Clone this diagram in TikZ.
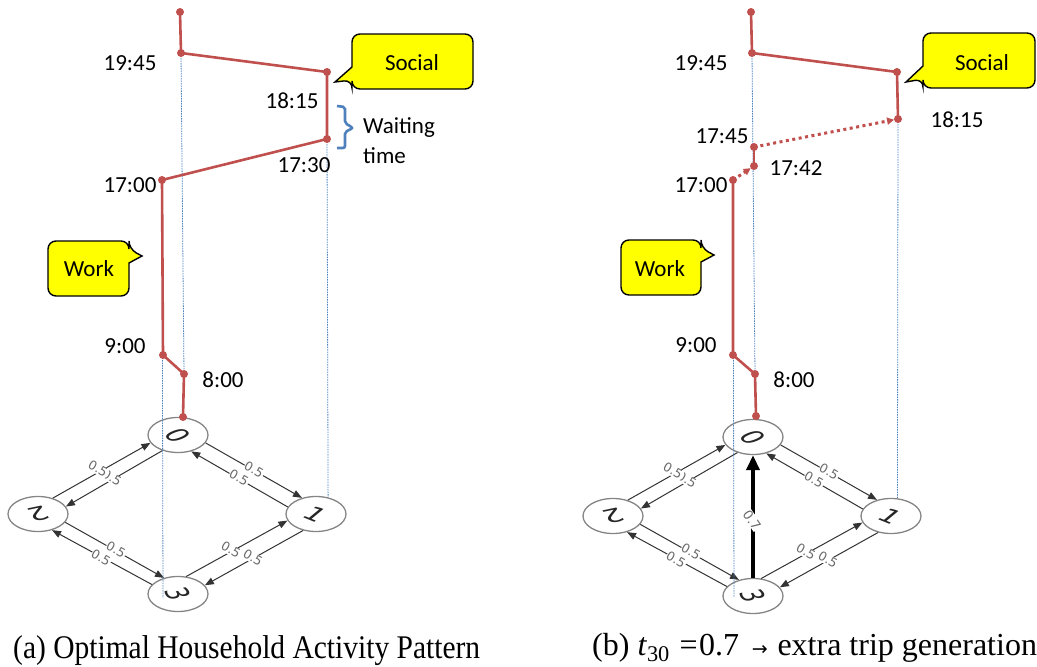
\documentclass[tikz,border=0pt]{standalone}
\usepackage{fontspec}
\setmainfont{Liberation Serif}
\newfontfamily\lblfont{Carlito}
\newfontfamily\grfont{DejaVu Sans}
\usetikzlibrary{arrows.meta,shapes.geometric}

\definecolor{pathred}{HTML}{C0504D}
\definecolor{guideblue}{HTML}{4F81BD}
\definecolor{bubbleyellow}{HTML}{FFFF00}
\definecolor{edgegray}{HTML}{333333}
\definecolor{ringgray}{HTML}{858585}
\definecolor{weightgray}{HTML}{6A6A6A}

\tikzset{
  state/.style={ellipse, draw=ringgray, line width=1.3pt, minimum width=60pt, minimum height=35pt, inner sep=0pt},
  digit/.style={font=\grfont\fontsize{32}{32}\selectfont, text=black!85, yscale=0.58, inner sep=0pt},
  flow/.style={draw=edgegray, line width=1pt, -{Triangle[length=9pt,width=7pt]}},
  weight/.style={font=\grfont\fontsize{12.5}{12.5}\selectfont, text=weightgray, fill=white, inner sep=0.5pt, rotate=-30},
  route/.style={draw=pathred, line width=2.6pt, line join=round},
  extratrip/.style={draw=pathred, line width=3pt, dash pattern=on 3pt off 3.5pt, shorten >=4pt, -{Triangle[length=7pt,width=7pt]}},
  guide/.style={draw=guideblue, line width=0.8pt, dash pattern=on 1.5pt off 1pt},
  timelbl/.style={font=\lblfont\fontsize{23}{27}\selectfont, inner sep=0pt, anchor=base},
  bubble/.style={draw=black, line width=1.4pt, fill=bubbleyellow},
  caption/.style={inner sep=0pt, anchor=base west},
}

% the four-state network with its transition weights
\newcommand{\hhgraph}[1]{%
  \node[state] (#1n0) at (178,435) {};
  \node[state] (#1n1) at (316,514) {};
  \node[state] (#1n2) at (38,514) {};
  \node[state] (#1n3) at (178,594) {};
  \node[digit, rotate=-55] (#1d0) at (#1n0) {0};
  \node[digit, rotate=-35] (#1d1) at (#1n1) {1};
  \node[digit, rotate=200] (#1d2) at (#1n2) {2};
  \node[digit, rotate=-70] (#1d3) at (#1n3) {3};
  \draw[flow] (#1n2.47) -- (#1n0.196);
  \draw[flow] (#1n0.225) -- (#1n2.15);
  \draw[flow] (#1n0.344) -- (#1n1.131);
  \draw[flow] (#1n1.166) -- (#1n0.309);
  \draw[flow] (#1n2.343) -- (#1n3.131);
  \draw[flow] (#1n3.160) -- (#1n2.311);
  \draw[flow] (#1n3.65) -- (#1n1.193);
  \draw[flow] (#1n1.232) -- (#1n3.18);
  \node[weight] (#1w02b) at (112,478) {0.5};
  \node[weight] (#1w02a) at (98,469) {0.5};
  \node[weight] (#1w01a) at (254,470) {0.5};
  \node[weight] (#1w01b) at (239,478) {0.5};
  \node[weight] (#1w23a) at (116,550) {0.5};
  \node[weight] (#1w23b) at (101,558) {0.5};
  \node[weight] (#1w31a) at (231,550) {0.5};
  \node[weight] (#1w31b) at (253,558) {0.5};
}

\begin{document}
\begin{tikzpicture}[x=1pt,y=-1pt]
\useasboundingbox (0,0) rectangle (1037,667);

% ---------------- (a) ----------------
\hhgraph{a}

\coordinate (aT) at (180,12);
\coordinate (a1945) at (181,53);
\coordinate (aSoc) at (327,72);
\coordinate (a1730) at (327,139);
\coordinate (a1700) at (162,180);
\coordinate (a900) at (163,355);
\coordinate (a800) at (184,374);
\coordinate (aH) at (183,417);
\coordinate (aG3) at (163,598);

\draw[guide] (a1945) -- (a800);
\draw[guide] (a1700) -- (aG3);
\draw[guide] (a1730) -- (an1.54);

\draw[route] (aT) -- (a1945) -- (aSoc) -- (a1730) -- (a1700) -- (a900) -- (a800) -- (aH);
\foreach \p in {aT,a1945,aSoc,a1730,a1700,a900,a800,aH}
  \fill[pathred] (\p) circle (4pt);

\node[timelbl] (ta1945) at (130,70) {19:45};
\node[timelbl] (ta1815) at (292,108) {18:15};
\node[timelbl] (ta1730) at (304,172) {17:30};
\node[timelbl] (ta1700) at (130,192) {17:00};
\node[timelbl] (ta900) at (125,353) {9:00};
\node[timelbl] (ta800) at (223,387) {8:00};

% waiting-time brace
\draw[guideblue, line width=2.6pt, rounded corners=2pt]
  (337,106) -- (345,107) -- (345,123) -- (353,128) -- (345,132) -- (345,148) -- (337,148);
\node[timelbl, anchor=base west] (wait1) at (363,133) {Waiting};
\node[timelbl, anchor=base west] (wait2) at (363,163) {time};

% callouts
\draw[bubble] (352,67) [rounded corners=8pt] -- (352,34) -- (473,34) -- (473,89) -- (352,89) -- (352,80) [sharp corners] -- (335,82) -- cycle;
\node[timelbl] (asocial) at (412,70) {Social};
\draw[bubble] (129,263) [rounded corners=8pt] -- (129,296) -- (48,296) -- (48,241) -- (129,241) -- (129,249) [sharp corners] -- (142,256) -- cycle;
\node[timelbl] (awork) at (89,276) {Work};

% ---------------- (b) ----------------
\begin{scope}[shift={(575,2)}]
  \hhgraph{b}
  \draw[draw=black, line width=4pt, -{Triangle[length=15pt,width=13pt]}] (bn3.north) -- (bn0.south);
  \node[weight, rotate=-25, font=\grfont\fontsize{13}{13}\selectfont] (bw30) at (177,518) {0.7};
\end{scope}

\coordinate (bT) at (751,12);
\coordinate (b1945) at (752,53);
\coordinate (bSoc) at (897,72);
\coordinate (b1815) at (898,119);
\coordinate (b1745) at (754,147);
\coordinate (b1742) at (754,166);
\coordinate (b1700) at (733,180);
\coordinate (b900) at (733,355);
\coordinate (b800) at (755,374);
\coordinate (bH) at (756,416);
\coordinate (bG3) at (734,597);

\draw[guide] (b1945) -- (b800);
\draw[guide] (b1700) -- (bG3);
\draw[guide] (b1815) -- (bn1.70);

\draw[route] (bT) -- (b1945) -- (bSoc) -- (b1815);
\draw[route] (b1745) -- (b1742);
\draw[route] (b1700) -- (b900) -- (b800) -- (bH);
\draw[extratrip] (b1700) -- (b1742);
\draw[extratrip] (b1745) -- (b1815);
\foreach \p in {bT,b1945,bSoc,b1815,b1745,b1742,b1700,b900,b800,bH}
  \fill[pathred] (\p) circle (4pt);

\node[timelbl] (tb1945) at (701,70) {19:45};
\node[timelbl] (tb1815) at (957,127) {18:15};
\node[timelbl] (tb1745) at (722,143) {17:45};
\node[timelbl] (tb1742) at (796,175) {17:42};
\node[timelbl] (tb1700) at (701,192) {17:00};
\node[timelbl] (tb900) at (696,352) {9:00};
\node[timelbl] (tb800) at (794,387) {8:00};

\draw[bubble] (923,66) [rounded corners=8pt] -- (923,33) -- (1035,33) -- (1035,88) -- (923,88) -- (923,79) [sharp corners] -- (906,82) -- cycle;
\node[timelbl] (bsocial) at (982,70) {Social};
\draw[bubble] (701,262) [rounded corners=8pt] -- (701,295) -- (621,295) -- (621,240) -- (701,240) -- (701,248) [sharp corners] -- (714,255) -- cycle;
\node[timelbl] (bwork) at (660,276) {Work};

% ---------------- captions ----------------
\node[caption, yscale=1.12, font=\fontsize{29.5}{33}\selectfont] (capa) at (13,658) {(a) Optimal Household Activity Pattern};
\node[caption, font=\fontsize{32}{36}\selectfont] (capb) at (592,655)
  {(b) \textit{t}\textsubscript{30}\hspace{0.3em}=\hspace{0.05em}0.7\hspace{0.4em}{\grfont\fontsize{19}{19}\selectfont →}\hspace{0.3em}extra trip generation};
\end{tikzpicture}
\end{document}
